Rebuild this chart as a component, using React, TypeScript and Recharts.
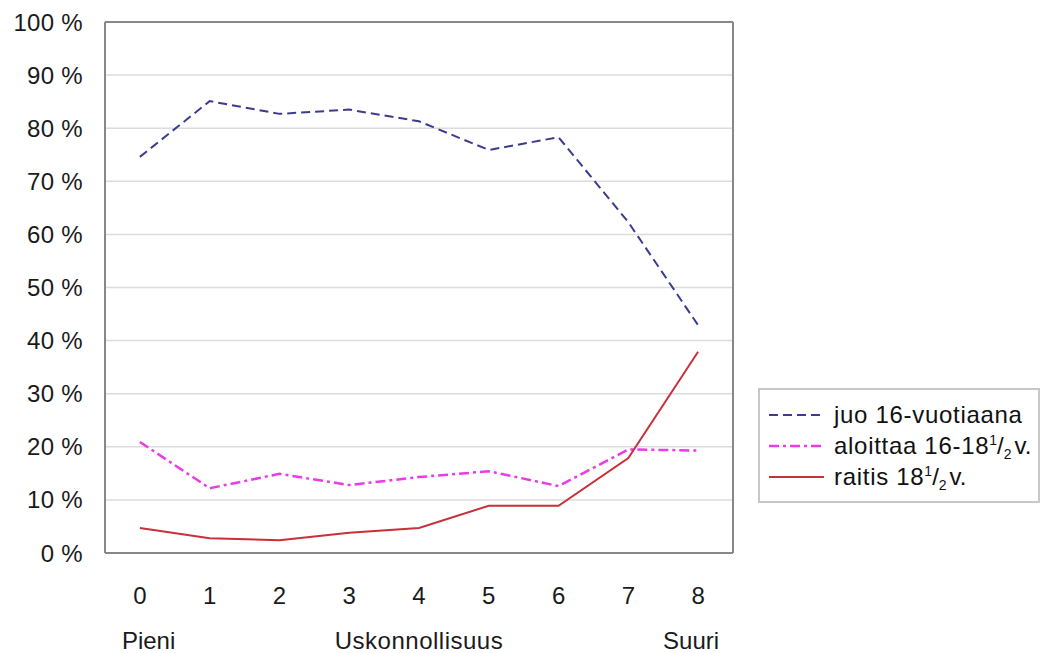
import React from "react";
import { LineChart, Line, XAxis, YAxis, CartesianGrid, Legend, ReferenceLine } from "recharts";

const categories = [0, 1, 2, 3, 4, 5, 6, 7, 8];
const juo = [74.6, 85.1, 82.7, 83.5, 81.3, 75.9, 78.3, 62.3, 42.9];
const aloittaa = [20.9, 12.2, 14.9, 12.8, 14.3, 15.4, 12.6, 19.5, 19.3];
const raitis = [4.7, 2.8, 2.4, 3.8, 4.7, 8.9, 8.9, 17.9, 37.9];
const yTicks = [0, 10, 20, 30, 40, 50, 60, 70, 80, 90, 100];
const boundaryTicks = [-0.5, 0.5, 1.5, 2.5, 3.5, 4.5, 5.5, 6.5, 7.5, 8.5];
const scaleLabelPositions = [0, 4, 8];
const scaleLabels = ["Pieni", "Uskonnollisuus", "Suuri"];
const seriesKeys = ["juo", "aloittaa", "raitis"];
const seriesNames = ["juo 16-vuotiaana", "aloittaa 16-18", "raitis 18"];
const seriesFraction = [false, true, true];
const seriesColors = ["#3b3b8f", "#e83ce8", "#c8303a"];
const seriesDash = ["9 5", "10 4 3 4", ""];
const seriesWidth = [2, 2.5, 2];

const data = categories.map((c, i) => ({ x: c, juo: juo[i], aloittaa: aloittaa[i], raitis: raitis[i] }));

const FONT = "'Liberation Sans', Arial, sans-serif";

const XTick = (props: any) => {
  const { x, y, payload } = props;
  const idx = scaleLabelPositions.indexOf(payload.value);
  const anchors = ["start", "middle", "end"];
  const dxs = [-18, 0, 21];
  return (
    <g>
      <text x={x} y={y + 49} textAnchor="middle" fontSize={24} fill="#1a1a1a" fontFamily={FONT}>
        {payload.value}
      </text>
      {idx >= 0 && (
        <text
          x={x + dxs[idx]}
          y={y + 94}
          textAnchor={anchors[idx] as any}
          fontSize={24}
          letterSpacing={idx === 1 ? 0.5 : 0}
          fill="#1a1a1a"
          fontFamily={FONT}
        >
          {scaleLabels[idx]}
        </text>
      )}
    </g>
  );
};

const LegendContent = () => (
  <div
    style={{
      border: "2px solid #c8c8c8",
      background: "#fff",
      boxSizing: "border-box",
      width: 282,
      height: 115,
      padding: "9px 0 0 8px",
      fontFamily: FONT,
      fontSize: 24,
      letterSpacing: 0.7,
      color: "#111",
      textAlign: "left",
    }}
  >
    {seriesKeys.map((k, i) => (
      <div key={k} style={{ display: "flex", alignItems: "center", height: 31 }}>
        <svg width={57} height={10} style={{ marginRight: 9, flex: "none" }}>
          <line
            x1={1}
            y1={5}
            x2={56}
            y2={5}
            stroke={seriesColors[i]}
            strokeWidth={seriesWidth[i]}
            strokeDasharray={seriesDash[i] || undefined}
          />
        </svg>
        <span style={{ whiteSpace: "nowrap", lineHeight: "31px" }}>
          {seriesNames[i]}
          {seriesFraction[i] && (
            <>
              <sup style={{ fontSize: 14, verticalAlign: "9px", lineHeight: 0, letterSpacing: 0 }}>1</sup>
              <span style={{ letterSpacing: 0 }}>/</span>
              <sub style={{ fontSize: 14, verticalAlign: "-5px", lineHeight: 0, letterSpacing: 0 }}>2</sub>
              <span style={{ marginLeft: 3, letterSpacing: 0 }}>v.</span>
            </>
          )}
        </span>
      </div>
    ))}
  </div>
);

export default function App() {
  return (
    <div style={{ position: "absolute", left: 0, top: 0, width: 1045, height: 653, background: "#fff" }}>
      <LineChart width={1045} height={653} data={data} margin={{ top: 22, right: 312, bottom: 0, left: 0 }}>
        <CartesianGrid horizontal vertical={false} stroke="#dcdcdc" strokeWidth={1.5} />
        <XAxis
          xAxisId="marks"
          type="number"
          domain={[-0.5, 8.5]}
          ticks={boundaryTicks}
          tick={false}
          axisLine={false}
          tickLine={{ stroke: "#d8d8d8" }}
          tickSize={5}
          height={0}
          allowDataOverflow
        />
        <XAxis
          xAxisId="main"
          dataKey="x"
          type="number"
          domain={[-0.5, 8.5]}
          ticks={categories}
          tick={<XTick />}
          tickLine={false}
          tickSize={0}
          axisLine={{ stroke: "#888", strokeWidth: 2 }}
          height={100}
          interval={0}
          allowDataOverflow
        />
        <YAxis
          type="number"
          domain={[0, 100]}
          ticks={yTicks}
          tickFormatter={(v: number) => `${v} %`}
          width={105}
          tickLine={false}
          tickSize={0}
          tickMargin={22}
          axisLine={{ stroke: "#888", strokeWidth: 2 }}
          tick={{ fontSize: 24, fill: "#1a1a1a", fontFamily: FONT, letterSpacing: 0.3 }}
          interval={0}
        />
        <ReferenceLine xAxisId="main" y={100} stroke="#888" strokeWidth={2} />
        <ReferenceLine xAxisId="main" x={8.5} stroke="#888" strokeWidth={2} />
        {seriesKeys.map((k, i) => (
          <Line
            key={k}
            xAxisId="main"
            dataKey={k}
            type="linear"
            stroke={seriesColors[i]}
            strokeWidth={seriesWidth[i]}
            strokeDasharray={seriesDash[i] || undefined}
            dot={false}
            activeDot={false}
            isAnimationActive={false}
          />
        ))}
        <Legend
          layout="vertical"
          align="center"
          verticalAlign="middle"
          content={<LegendContent />}
          wrapperStyle={{ position: "absolute", left: 758, top: 388, width: 282, height: 115 }}
        />
      </LineChart>
    </div>
  );
}
